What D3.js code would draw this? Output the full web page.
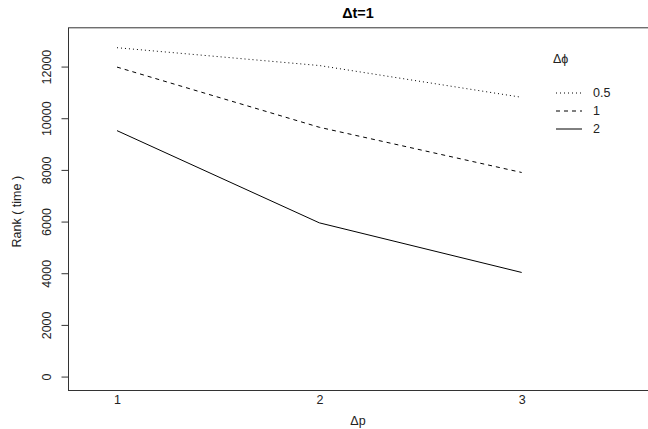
<!DOCTYPE html>
<html>
<head>
<meta charset="utf-8">
<script src="https://cdn.jsdelivr.net/npm/d3@7"></script>
<style>
  html, body { margin: 0; padding: 0; background: #fff; overflow: hidden; }
  svg { display: block; font-family: "Liberation Sans", Arial, sans-serif; }
</style>
</head>
<body>
<svg id="chart" width="648" height="429"></svg>
<script>
// Δp levels on the x axis
const pLevels = [1, 2, 3];
// Δϕ levels (one trace each)
const phiLevels = ["0.5", "1", "2"];
// mean rank of time per Δp, one array per Δϕ level
const rankPhi05 = [12730, 12040, 10810];
const rankPhi1 = [11980, 9650, 7900];
const rankPhi2 = [9520, 5950, 4030];
// y axis tick values
const yTicks = [0, 2000, 4000, 6000, 8000, 10000, 12000];

const series = [
  { name: phiLevels[0], values: rankPhi05, dash: "1,3" },
  { name: phiLevels[1], values: rankPhi1, dash: "4,4" },
  { name: phiLevels[2], values: rankPhi2, dash: null }
];

const svg = d3.select("#chart");
// the frame runs past the right edge of the canvas
const plot = { left: 68, right: 670, top: 27.3, bottom: 390 };

const x = d3.scaleLinear().domain([1, 3]).range([117, 521.7]);
const y = d3.scaleLinear().domain([-520, 13520]).range([plot.bottom, plot.top]);

// plot frame
svg.append("rect")
  .attr("x", plot.left + 0.5).attr("y", plot.top + 0.5)
  .attr("width", plot.right - plot.left).attr("height", plot.bottom - plot.top)
  .attr("fill", "none").attr("stroke", "#333").attr("stroke-width", 1);

// y axis
const yAxis = d3.axisLeft(y).tickValues(yTicks).tickSize(7).tickPadding(0).tickFormat(d3.format("d"));
const yg = svg.append("g").attr("transform", `translate(${plot.left + 0.5},0)`).call(yAxis);
yg.select(".domain").remove();
yg.selectAll(".tick line").attr("stroke", "#333");
yg.selectAll(".tick text")
  .attr("x", null).attr("dy", null)
  .attr("transform", "translate(-18,0) rotate(-90)")
  .attr("text-anchor", "middle")
  .attr("font-size", 12.5).attr("fill", "#222")
  .attr("font-family", "Liberation Sans, Arial, sans-serif");

// x axis labels (no tick marks)
const xAxis = d3.axisBottom(x).tickValues(pLevels).tickSize(0).tickPadding(0).tickFormat(d3.format("d"));
const xg = svg.append("g").attr("transform", `translate(0,${plot.bottom})`).call(xAxis);
xg.select(".domain").remove();
xg.selectAll(".tick text")
  .attr("y", 14).attr("dy", null)
  .attr("font-size", 12.5).attr("fill", "#222")
  .attr("font-family", "Liberation Sans, Arial, sans-serif");

// traces
const line = d3.line().x((d, i) => x(pLevels[i])).y(d => y(d));
svg.append("g").selectAll("path").data(series).join("path")
  .attr("d", d => line(d.values))
  .attr("fill", "none").attr("stroke", "#000").attr("stroke-width", 1)
  .attr("stroke-dasharray", d => d.dash);

// titles
svg.append("text").attr("x", 358).attr("y", 18).attr("text-anchor", "middle")
  .attr("font-size", 14.4).attr("font-weight", "bold").attr("fill", "#000").text("Δt=1");
svg.append("text").attr("x", 358).attr("y", 425).attr("text-anchor", "middle")
  .attr("font-size", 12.5).attr("fill", "#222").text("Δp");
svg.append("text").attr("transform", `translate(21,${(plot.top + plot.bottom) / 2 + 3}) rotate(-90)`)
  .attr("text-anchor", "middle").attr("font-size", 12.5).attr("fill", "#222")
  .attr("xml:space", "preserve").style("white-space", "pre").text("Rank ( time )");

// legend
const legend = svg.append("g");
legend.append("text").attr("x", 553).attr("y", 63).attr("font-size", 12.5).attr("fill", "#222").text("Δϕ");
const rows = legend.selectAll("g.row").data(series).join("g").attr("class", "row")
  .attr("transform", (d, i) => `translate(0,${92.5 + i * 18})`);
rows.append("line").attr("x1", 556).attr("x2", 582).attr("y1", 0.5).attr("y2", 0.5)
  .attr("stroke", "#000").attr("stroke-width", 1).attr("stroke-dasharray", d => d.dash);
rows.append("text").attr("x", 593).attr("y", 4.5).attr("font-size", 12.5).attr("fill", "#222").text(d => d.name);
</script>
</body>
</html>
